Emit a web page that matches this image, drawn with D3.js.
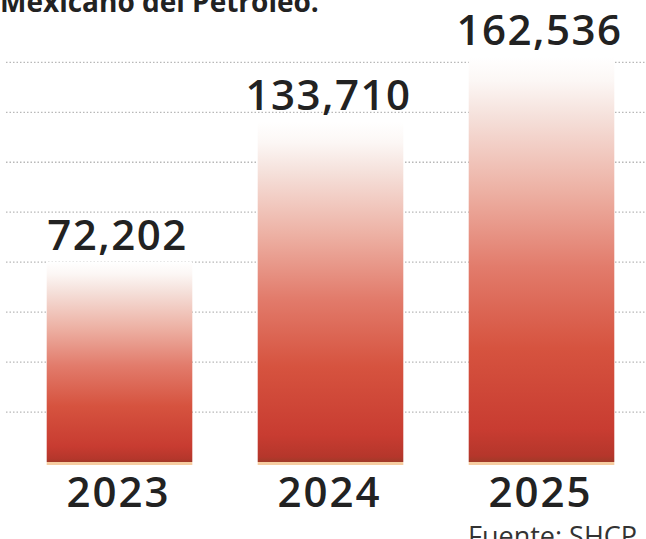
<!DOCTYPE html>
<html>
<head>
<meta charset="utf-8">
<script src="https://cdn.jsdelivr.net/npm/d3@7"></script>
<style>
  html, body { margin: 0; padding: 0; background: #ffffff; }
  svg { display: block; }
</style>
</head>
<body>
<svg id="chart" width="646" height="539"></svg>
<script>
// ---- data ----
const years = ["2023", "2024", "2025"];
const values = [72202, 133710, 162536];
const gridValues = [6000, 28000, 50000, 72000, 94000, 116000, 138000, 160000];
const titleText = "Mexicano del Petróleo.";
const sourceText = "Fuente: SHCP";

const W = 646, H = 539;
const svg = d3.select("#chart");

const x = d3.scaleBand().domain(years).range([14, 647]).paddingInner(0.31).paddingOuter(0.155);
const y = d3.scaleLinear().domain([-16000, 176000]).range([462, 26]);

const fmt = d3.format(",");

// gradient
const defs = svg.append("defs");
const grad = defs.append("linearGradient").attr("id", "barGrad")
  .attr("x1", 0).attr("y1", 0).attr("x2", 0).attr("y2", 1);
[[0, "#ffffff"], [0.06, "#fcf7f5"], [0.15, "#f5e0da"], [0.33, "#edb1a4"],
 [0.52, "#e27b6b"], [0.72, "#d6533f"], [0.92, "#c83c31"], [0.985, "#b5362b"], [1, "#a03a28"]]
  .forEach(([o, c]) => grad.append("stop").attr("offset", o).attr("stop-color", c));

// title (cropped at top, as in the reference)
svg.append("text").attr("x", 0).attr("y", 12)
  .attr("font-family", "'Open Sans', sans-serif").attr("font-weight", 700)
  .attr("font-size", 28).attr("fill", "#222").text(titleText);

// gridlines
svg.append("g").selectAll("line").data(gridValues).join("line")
  .attr("x1", 6).attr("x2", W)
  .attr("y1", d => y(d)).attr("y2", d => y(d))
  .attr("stroke", "#b8b8b8").attr("stroke-width", 1.3)
  .attr("stroke-dasharray", "1.5,2");

// bars
const base = y.range()[0];
svg.append("g").selectAll("rect").data(values).join("rect")
  .attr("x", (d, i) => x(years[i]))
  .attr("width", x.bandwidth())
  .attr("y", d => y(d))
  .attr("height", d => base - y(d))
  .attr("fill", "url(#barGrad)");

// orange glow under bars
svg.append("g").selectAll("rect").data(values).join("rect")
  .attr("x", (d, i) => x(years[i]))
  .attr("width", x.bandwidth())
  .attr("y", base)
  .attr("height", 3)
  .attr("fill", "#f0ab62").attr("opacity", 0.6);

// value labels
svg.append("g").selectAll("text").data(values).join("text")
  .attr("x", (d, i) => x(years[i]) + x.bandwidth() / 2 - 2)
  .attr("y", d => y(d) - 12)
  .attr("text-anchor", "middle")
  .attr("font-family", "'Open Sans', sans-serif").attr("font-weight", 600)
  .attr("font-size", 42).attr("letter-spacing", 1.5)
  .attr("fill", "#222").text(d => fmt(d));

// year labels
svg.append("g").selectAll("text").data(years).join("text")
  .attr("x", d => x(d) + x.bandwidth() / 2 - 1)
  .attr("y", 507)
  .attr("text-anchor", "middle")
  .attr("font-family", "'Open Sans', sans-serif").attr("font-weight", 600)
  .attr("font-size", 42).attr("letter-spacing", 2)
  .attr("fill", "#222").text(d => d);

// source (cropped at bottom/right as in the reference)
svg.append("text").attr("x", 468).attr("y", 546)
  .attr("font-family", "'Open Sans', sans-serif").attr("font-weight", 400)
  .attr("font-size", 27).attr("fill", "#333").text(sourceText);
</script>
</body>
</html>
